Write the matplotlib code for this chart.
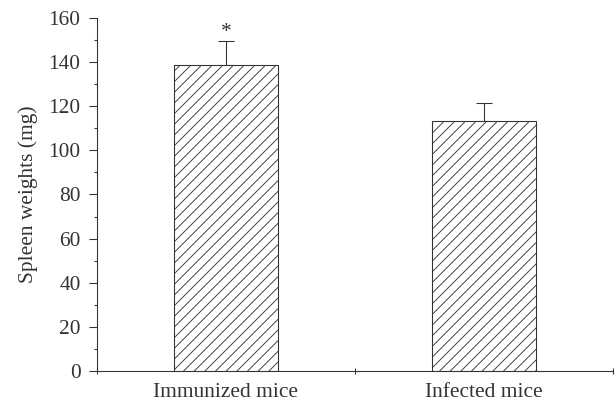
import matplotlib
matplotlib.use("Agg")
from matplotlib import pyplot as plt

# data
groups = ["Immunized mice", "Infected mice"]
weights = [138.5, 113.5]
sd_upper = [11.0, 8.0]
marks = ["*", ""]

dark = "#333333"
plt.rcParams["font.family"] = ["Liberation Serif", "DejaVu Serif"]
plt.rcParams["hatch.linewidth"] = 1.0
plt.rcParams["hatch.color"] = dark
fs = 24

# dpi 64 so that the "//" hatch spacing matches the reference
fig = plt.figure(figsize=(616 / 64, 406 / 64), dpi=64)
ax = fig.add_axes([0.1575, 0.0862, 0.8375, 0.8695])

pos = [0.5, 1.5]
bars = ax.bar(pos, weights, width=0.4, color="white", edgecolor=dark,
              hatch="//", linewidth=1.2, zorder=2)
ax.errorbar(pos, weights, yerr=[[0, 0], sd_upper], fmt="none", ecolor=dark,
            elinewidth=1.2, capsize=9.5, capthick=1.2, zorder=1)
for p, w, e, m in zip(pos, weights, sd_upper, marks):
    if m:
        ax.text(p, w + e - 0.5, m, ha="center", va="bottom", fontsize=fs, color=dark)

ax.set_xlim(0, 2)
ax.set_ylim(0, 160)
ax.set_yticks(range(0, 161, 20))
ax.set_yticks(range(10, 160, 20), minor=True)
ax.set_xticks([0, 1, 2])
ax.set_xticklabels([])
ax.set_xticks(pos, minor=True)
ax.set_xticklabels(groups, minor=True)

ax.tick_params(axis="y", which="major", direction="out", length=9, width=1.2,
               colors=dark, labelsize=fs, pad=9.5)
ax.tick_params(axis="y", which="minor", direction="out", length=3.5, width=1.2, colors=dark)
ax.tick_params(axis="x", which="major", direction="inout", length=7, width=1.2, colors=dark)
ax.tick_params(axis="x", which="minor", length=0, labelsize=fs, pad=14, colors=dark)

ax.set_ylabel("Spleen weights (mg)", fontsize=fs, color=dark, labelpad=12)
ax.spines["top"].set_visible(False)
ax.spines["right"].set_visible(False)
for s in ["left", "bottom"]:
    ax.spines[s].set_color(dark)
    ax.spines[s].set_linewidth(1.2)

fig.savefig("out.png", dpi=64)
